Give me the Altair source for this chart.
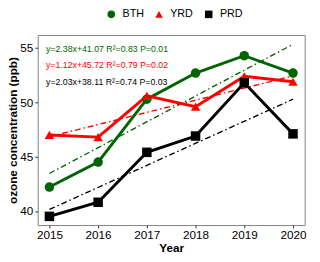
import altair as alt
import pandas as pd

years = [2015, 2016, 2017, 2018, 2019, 2020]
regions = ["BTH", "YRD", "PRD"]
bth = [42.2, 44.5, 50.3, 52.7, 54.3, 52.7]
yrd = [47.0, 46.8, 50.6, 49.6, 52.4, 51.9]
prd = [39.5, 40.8, 45.4, 46.9, 51.8, 47.1]
trend_start = [43.45, 46.84, 40.14]
trend_end = [55.35, 52.44, 50.29]
equations = [
    "y=2.38x+41.07 R²=0.83 P=0.01",
    "y=1.12x+45.72 R²=0.79 P=0.02",
    "y=2.03x+38.11 R²=0.74 P=0.03",
]
colors = ["#006400", "#ff0000", "#000000"]
shapes = ["circle", "triangle-up", "square"]

rows = []
for reg, vals in zip(regions, [bth, yrd, prd]):
    for yr, v in zip(years, vals):
        rows.append({"Year": yr, "ozone": v, "region": reg})
df = pd.DataFrame(rows)

trend = pd.DataFrame(
    [{"Year": years[0], "ozone": s, "region": r} for r, s in zip(regions, trend_start)]
    + [{"Year": years[-1], "ozone": e, "region": r} for r, e in zip(regions, trend_end)]
)

ann_y = [54.95, 53.4, 51.85]
ann = pd.DataFrame({"region": regions, "label": equations, "Year": [2014.93] * 3, "ozone": ann_y})

FONT = "Liberation Sans"
xscale = alt.Scale(domain=[2014.76, 2020.24], nice=False, zero=False)
yscale = alt.Scale(domain=[38.7, 56.2], nice=False, zero=False)
cscale = alt.Scale(domain=regions, range=colors)
sscale = alt.Scale(domain=regions, range=shapes)

X = alt.X("Year:Q", scale=xscale, title="Year",
          axis=alt.Axis(values=years, format="d", grid=False, domain=False,
                        tickSize=3, tickColor="#333333", labelPadding=2,
                        labelFontSize=12, labelColor="#000000", titleFontSize=12,
                        titleFontWeight="bold", titlePadding=2, labelFont=FONT, titleFont=FONT))
Y = alt.Y("ozone:Q", scale=yscale, title="ozone concentration (ppb)",
          axis=alt.Axis(values=[40, 45, 50, 55], grid=False, domain=False,
                        tickSize=3, tickColor="#333333", labelPadding=2,
                        labelFontSize=12, labelColor="#000000", titleFontSize=12,
                        titleFontWeight="bold", titlePadding=0, labelFont=FONT, titleFont=FONT))

trend_layer = alt.Chart(trend).mark_line(strokeWidth=1.4, strokeDash=[6, 3, 1.5, 3]).encode(
    x=X, y=Y, color=alt.Color("region:N", scale=cscale, legend=None), detail="region:N")

line_layer = alt.Chart(df).mark_line(strokeWidth=3).encode(
    x=X, y=Y, color=alt.Color("region:N", scale=cscale, legend=None), detail="region:N")

point_layer = alt.Chart(df).mark_point(filled=True, opacity=1, size=95).encode(
    x=X, y=Y,
    color=alt.Color("region:N", scale=cscale, sort=regions, title=None),
    shape=alt.Shape("region:N", scale=sscale, sort=regions, title=None),
)

text_layer = alt.Chart(ann).mark_text(align="left", baseline="middle", fontSize=9, font=FONT).encode(
    x=alt.X("Year:Q", scale=xscale), y=alt.Y("ozone:Q", scale=yscale),
    text="label:N", color=alt.Color("region:N", scale=cscale, legend=None))

chart = alt.layer(trend_layer, line_layer, point_layer, text_layer).resolve_legend(
    color="independent", shape="independent"
).properties(
    width=274, height=195,
    autosize=alt.AutoSizeParams(type="none"),
    padding={"left": 30.5, "top": 24.5, "right": 7.5, "bottom": 30},
    background="#ffffff",
).configure_view(stroke="#808080", strokeWidth=1).configure_legend(
    orient="none", legendX=70, legendY=-27, direction="horizontal",
    labelFontSize=11, labelFont=FONT, labelColor="#000000",
    symbolSize=60, labelOffset=6, columnPadding=10, padding=0,
    symbolStrokeWidth=0, symbolOpacity=1,
)

chart.save("out.html", embed_options={"renderer": "svg", "actions": False})
